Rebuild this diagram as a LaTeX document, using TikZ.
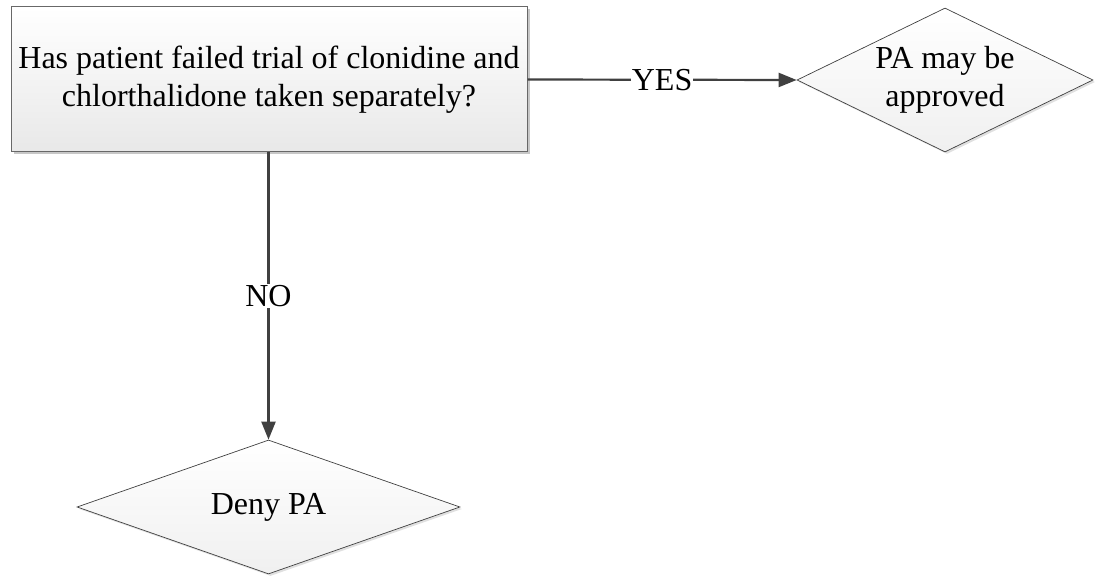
\documentclass[tikz,border=0pt]{standalone}
\usepackage{fontspec}
\setmainfont{Liberation Serif}
\usetikzlibrary{shapes.geometric,arrows.meta,shadows}

\definecolor{edgegray}{HTML}{404040}
\definecolor{rimgray}{HTML}{686868}

\tikzset{
  flowtext/.style={font=\fontsize{32}{38}\selectfont, align=center},
  question/.style={rectangle, draw=rimgray, line width=1pt,
    top color=white, bottom color=black!9,
    drop shadow={shadow xshift=2.5pt, shadow yshift=-2.5pt, fill=black!22, opacity=1},
    minimum width=516pt, minimum height=145pt, inner sep=0pt, flowtext},
  outcome/.style={diamond, draw=edgegray, line width=0.7pt,
    top color=white, bottom color=black!6,
    drop shadow={shadow xshift=2pt, shadow yshift=-2pt, fill=black!12, opacity=1},
    inner sep=0pt},
  flowarrow/.style={draw=edgegray, line width=2.2pt,
    -{Triangle[length=18pt, width=14pt]}},
  flowlabel/.style={fill=white, inner sep=1pt, flowtext}
}

\begin{document}
\begin{tikzpicture}[x=1pt, y=-1pt]
  \useasboundingbox (0,0) rectangle (1095,585);

  % decision box
  \node[question] (ask) at (269,79.5)
    {Has patient failed trial of clonidine and\\chlorthalidone taken separately?};

  % outcome diamonds
  \node[outcome, minimum width=296pt, minimum height=144pt] (approve) at (945,80) {};
  \node[flowtext] (approvetext) at (approve.center) {PA may be\\approved};

  \node[outcome, minimum width=383pt, minimum height=134pt] (deny) at (268.5,507) {};
  \node[flowtext] (denytext) at (deny.center) {Deny PA};

  % connectors
  \draw[flowarrow] (ask.east) -- node[flowlabel] (yes) {YES} (approve.west);
  \draw[flowarrow] (ask.south -| deny.north) -- node[flowlabel, pos=0.5] (no) {NO} (deny.north);
\end{tikzpicture}
\end{document}
